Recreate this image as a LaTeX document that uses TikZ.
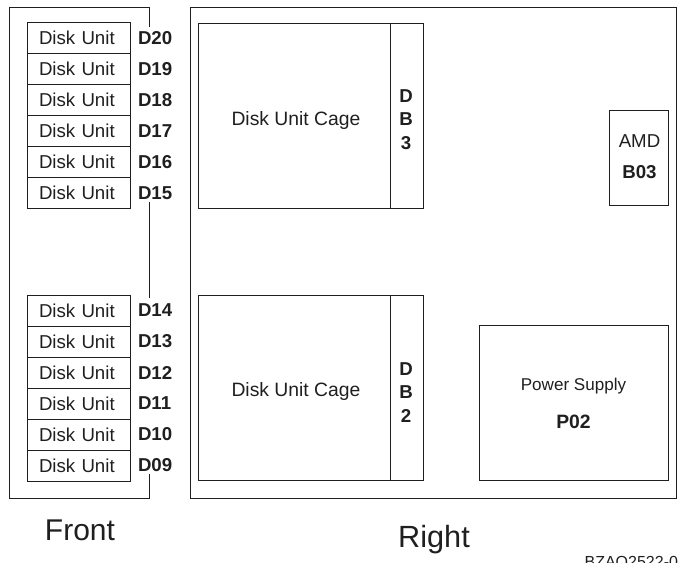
\documentclass[tikz,border=0pt]{standalone}
\usepackage{fontspec}
\setmainfont{Liberation Sans}
\usetikzlibrary{positioning}

\begin{document}
\begin{tikzpicture}[x=0.75pt,y=-0.75pt,node distance=23.25pt,line width=0.7pt,color=black!88]
    \tikzstyle{every node}=[inner sep=0pt,outer sep=0pt]
    \tikzstyle{unit}=[draw,minimum width=77.25pt,minimum height=23.25pt,text width=59.25pt,font=\fontsize{14}{17}\selectfont\raggedright]
    \tikzstyle{slot}=[font=\fontsize{14}{17}\selectfont\bfseries,anchor=west]
    \tikzstyle{cage}=[draw,minimum width=144pt,minimum height=138.75pt]
    \tikzstyle{cagetext}=[font=\fontsize{14.5}{17}\selectfont]
    \tikzstyle{board}=[draw,minimum width=24.75pt,minimum height=138.75pt]
    \tikzstyle{boardtext}=[align=center,font=\fontsize{14}{17.6}\selectfont\bfseries]

    \useasboundingbox (0,0) rectangle (678,563);

    \node[unit] (U20) at (78.5,38) {Disk Unit}; \node[unit] (U19) [below of=U20] {Disk Unit};
    \node[unit] (U18) [below of=U19] {Disk Unit}; \node[unit] (U17) [below of=U18] {Disk Unit};
    \node[unit] (U16) [below of=U17] {Disk Unit}; \node[unit] (U15) [below of=U16] {Disk Unit};

    \node[unit] (U14) at (78.5,310.5) {Disk Unit}; \node[unit] (U13) [below of=U14] {Disk Unit};
    \node[unit] (U12) [below of=U13] {Disk Unit}; \node[unit] (U11) [below of=U12] {Disk Unit};
    \node[unit] (U10) [below of=U11] {Disk Unit}; \node[unit] (U09) [below of=U10] {Disk Unit};

    \node[slot] (D20) [right=6pt of U20.east,anchor=west] {D20};
    \node[slot] (D19) [right=6pt of U19.east,anchor=west] {D19};
    \node[slot] (D18) [right=6pt of U18.east,anchor=west] {D18};
    \node[slot] (D17) [right=6pt of U17.east,anchor=west] {D17};
    \node[slot] (D16) [right=6pt of U16.east,anchor=west] {D16};
    \node[slot] (D15) [right=6pt of U15.east,anchor=west] {D15};
    \node[slot] (D14) [right=6pt of U14.east,anchor=west] {D14};
    \node[slot] (D13) [right=6pt of U13.east,anchor=west] {D13};
    \node[slot] (D12) [right=6pt of U12.east,anchor=west] {D12};
    \node[slot] (D11) [right=6pt of U11.east,anchor=west] {D11};
    \node[slot] (D10) [right=6pt of U10.east,anchor=west] {D10};
    \node[slot] (D09) [right=6pt of U09.east,anchor=west] {D09};

    \draw (149,27) -- (149,7) -- (9,7) -- (9,498) -- (149,498) -- (149,474);
    \draw (149,202) -- (149,298);

    \node[draw,minimum width=364.5pt,minimum height=368.25pt] (Case) at (433,252.5) {};

    \node[cage] (CageTop) at (294,115.5) {};
    \node[cage] (CageBot) at (294,387.5) {};
    \node[cagetext] (TextTop) at (296,120.5) {Disk Unit Cage};
    \node[cagetext] (TextBot) at (296,391.5) {Disk Unit Cage};
    \node[board] (DB3) [right=0pt of CageTop] {};
    \node[board] (DB2) [right=0pt of CageBot] {};
    \node[boardtext] (TextDB3) at (406,119.5) {D\\B\\3};
    \node[boardtext] (TextDB2) at (406,392.5) {D\\B\\2};

    \node[draw,minimum width=44.25pt,minimum height=71.25pt] (AMD) at (638.5,157.5) {};
    \node[align=center,font=\fontsize{14}{23.25}\selectfont] (TextAMD) at (639.5,157) {AMD\\\textbf{B03}};
    \node[draw,minimum width=141.75pt,minimum height=116.25pt] (Power) at (573.5,402.5) {};
    \node[align=center,font=\fontsize{12.8}{28.5}\selectfont] (TextPower) at (573.5,403.5) {Power Supply\\\fontsize{14.5}{28.5}\selectfont\textbf{P02}};

    \node[font=\fontsize{22.5}{27}\selectfont] (Front) at (80,530) {Front};
    \node[font=\fontsize{23}{27}\selectfont] (Right) at (434,540) {Right};
    \node[font=\fontsize{12}{14}\selectfont,anchor=base east] (Fig) at (678,567.5) {BZAQ2522-0};

\end{tikzpicture}
\end{document}
